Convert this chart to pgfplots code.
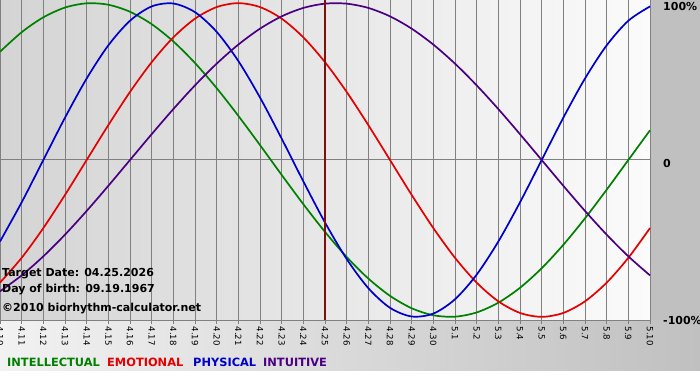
\documentclass[border=0pt]{standalone}
\usepackage{fontspec}
\setmainfont{DejaVu Sans}
\usepackage{pgfplots}
\pgfplotsset{compat=1.18}
\usepackage{pgfplotstable}
\definecolor{cgreen}{RGB}{0,128,0}
\definecolor{cred}{RGB}{228,0,0}
\definecolor{cblue}{RGB}{0,0,205}
\definecolor{cpurple}{RGB}{75,0,130}
\definecolor{cmark}{RGB}{125,15,15}
\definecolor{gridgray}{RGB}{128,128,128}
\definecolor{bgL}{RGB}{212,212,212}
\definecolor{bgR}{RGB}{251,251,251}
\definecolor{margin}{RGB}{192,192,192}
\definecolor{botL}{RGB}{242,242,242}

\pgfplotstableread{
i phys emo intel intu
0 -0.5196 -0.7818 0.6901 -0.8372
1 -0.2698 -0.6235 0.8146 -0.7357
2 0 -0.4339 0.9096 -0.6142
3 0.2698 -0.2225 0.9718 -0.4759
4 0.5196 0 0.9989 -0.3247
5 0.7308 0.2225 0.9898 -0.1646
6 0.8879 0.4339 0.9450 0
7 0.9791 0.6235 0.8660 0.1646
8 0.9977 0.7818 0.7557 0.3247
9 0.9423 0.9010 0.6182 0.4759
10 0.8170 0.9749 0.4582 0.6142
11 0.6311 1 0.2817 0.7357
12 0.3984 0.9749 0.0951 0.8372
13 0.1362 0.9010 -0.0951 0.9158
14 -0.1362 0.7818 -0.2817 0.9694
15 -0.3984 0.6235 -0.4582 0.9966
16 -0.6311 0.4339 -0.6182 0.9966
17 -0.8170 0.2225 -0.7557 0.9694
18 -0.9423 0 -0.8660 0.9158
19 -0.9977 -0.2225 -0.9450 0.8372
20 -0.9791 -0.4339 -0.9898 0.7357
21 -0.8879 -0.6235 -0.9989 0.6142
22 -0.7308 -0.7818 -0.9718 0.4759
23 -0.5196 -0.9010 -0.9096 0.3247
24 -0.2698 -0.9749 -0.8146 0.1646
25 0 -1 -0.6901 0
26 0.2698 -0.9749 -0.5406 -0.1646
27 0.5196 -0.9010 -0.3717 -0.3247
28 0.7308 -0.7818 -0.1893 -0.4759
29 0.8879 -0.6235 0 -0.6142
30 0.9791 -0.4339 0.1893 -0.7357
}\bio

\begin{document}
\begin{tikzpicture}[x=1pt,y=1pt]
\useasboundingbox (0,0) rectangle (700,380);
\clip (0,0) rectangle (700,380);
\fill[white] (0,0) rectangle (700,380);
\shade[left color=botL, right color=margin] (0,10) rectangle (700,60);
\fill[margin] (650,60) rectangle (700,380);
\begin{axis}[
  at={(0pt,60pt)}, anchor=south west,
  scale only axis, width=650pt, height=320pt,
  xmin=0, xmax=30, ymin=-1.02, ymax=1.02,
  axis background/.style={left color=bgL, right color=bgR},
  axis x line*=bottom, axis y line*=right,
  x axis line style={gridgray, line width=1pt, -},
  y axis line style={draw=none},
  xtick={0,...,30},
  xticklabels={4.10,4.11,4.12,4.13,4.14,4.15,4.16,4.17,4.18,4.19,4.20,4.21,4.22,4.23,4.24,4.25,4.26,4.27,4.28,4.29,4.30,5.1,5.2,5.3,5.4,5.5,5.6,5.7,5.8,5.9,5.10},
  xmajorgrids, grid style={gridgray, line width=1pt},
  xtick style={gridgray, line width=1pt},
  tick align=outside, major tick length=4pt,
  x tick label style={rotate=-90, anchor=west, inner sep=0pt, font=\fontsize{8.6}{8.6}\selectfont, text=black},
  xticklabel shift=2.5pt,
  ytick={-1,0,1}, yticklabels={-100\%,0,100\%},
  ytick style={draw=none},
  y tick label style={anchor=west, inner sep=0pt, yshift=-3.5pt, font=\fontsize{11}{11}\selectfont\bfseries},
  yticklabel shift=9pt,
  extra y ticks={0}, extra y tick labels={},
  extra y tick style={grid=major, ytick style={draw=none}},
  clip=false,
]
\addplot[cgreen, line width=1.7pt, smooth] table[x=i, y=intel] {\bio};
\addplot[cred, line width=1.7pt, smooth] table[x=i, y=emo] {\bio};
\addplot[cblue, line width=1.7pt, smooth] table[x=i, y=phys] {\bio};
\addplot[cpurple, line width=1.7pt, smooth] table[x=i, y=intu] {\bio};
\addplot[cmark, line width=2pt] coordinates {(15,-1.02) (15,1.02)};
\end{axis}
\begin{scope}[every node/.style={anchor=base west, inner sep=0pt, font=\fontsize{11}{11}\selectfont\bfseries}]
\node at (2,104) {Target Date: 04.25.2026};
\node at (2,88) {Day of birth: 09.19.1967};
\node at (2,69) {©2010 biorhythm-calculator.net};
\end{scope}
\begin{scope}[every node/.style={anchor=base west, inner sep=0pt, font=\fontsize{11.4}{11.4}\selectfont\bfseries}]
\node[text=cgreen] at (7,13.5) {INTELLECTUAL};
\node[text=cred] at (107,13.5) {EMOTIONAL};
\node[text=cblue] at (193,13.5) {PHYSICAL};
\node[text=cpurple] at (263,13.5) {INTUITIVE};
\end{scope}
\end{tikzpicture}
\end{document}
